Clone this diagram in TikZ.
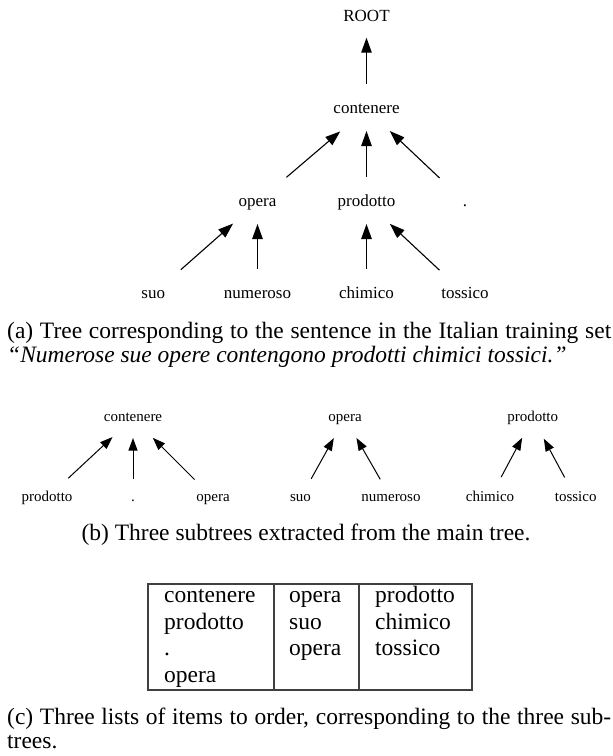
\documentclass[tikz,border=0pt]{standalone}
\usepackage{fontspec}
\setmainfont{Liberation Serif}
\usetikzlibrary{arrows.meta}
\begin{document}
\begin{tikzpicture}[x=1pt,y=-1pt,
  mt/.style={font=\fontsize{17}{20}\selectfont, inner sep=0pt, anchor=base, text height=12pt, text depth=4pt},
  st/.style={font=\fontsize{15}{18}\selectfont, inner sep=0pt, anchor=base, text height=10.5pt, text depth=3.5pt},
  txt/.style={font=\fontsize{23.5}{26}\selectfont, inner sep=0pt, anchor=base west},
  arrm/.style={-{Triangle[length=15pt,width=10.5pt]}, line width=1.1pt},
  arrs/.style={-{Triangle[length=12.5pt,width=9pt]}, line width=1pt},
  rule/.style={line width=1.2pt, draw=black!75}
]
\useasboundingbox (0,0) rectangle (613,756);
% main tree
\node[mt] (root) at (366.5,21) {ROOT};
\node[mt] (cont) at (366.5,113) {contenere};
\node[mt] (opera) at (257.5,206) {opera};
\node[mt] (prod) at (366.5,206) {prodotto};
\node[mt] (dot) at (465,206) {.};
\node[mt] (suo) at (153.3,298) {suo};
\node[mt] (num) at (257.5,298) {numeroso};
\node[mt] (chim) at (366.5,298) {chimico};
\node[mt] (toss) at (465,298) {tossico};
\draw[arrm, shorten <=25pt, shorten >=20.7pt] (cont.center) -- (root.center);
\draw[arrm, shorten <=38pt, shorten >=34.5pt] (opera.center) -- (cont.center);
\draw[arrm, shorten <=25pt, shorten >=22pt] (prod.center) -- (cont.center);
\draw[arrm, shorten <=35pt, shorten >=32pt] (dot.center) -- (cont.center);
\draw[arrm, shorten <=36.7pt, shorten >=32.6pt] (suo.center) -- (opera.center);
\draw[arrm, shorten <=25pt, shorten >=22pt] (num.center) -- (opera.center);
\draw[arrm, shorten <=25pt, shorten >=22pt] (chim.center) -- (prod.center);
\draw[arrm, shorten <=35pt, shorten >=32pt] (toss.center) -- (prod.center);
% caption a
\node[txt] (capa1) at (7,338) {\makebox[604pt][s]{(a) Tree corresponding to the sentence in the Italian training set}};
\node[txt] (capa2) at (7,362) {\textit{“Numerose sue opere contengono prodotti chimici tossici.”}};
% subtrees
\node[st] (c2) at (133,421.5) {contenere};
\node[st] (p2) at (47,501.5) {prodotto};
\node[st] (d2) at (133,501.5) {.};
\node[st] (o2) at (213,501.5) {opera};
\node[st] (o3) at (345,421.5) {opera};
\node[st] (s3) at (300.5,501.5) {suo};
\node[st] (n3) at (391,501.5) {numeroso};
\node[st] (p4) at (532.7,421.5) {prodotto};
\node[st] (ch4) at (490,501.5) {chimico};
\node[st] (t4) at (575.7,501.5) {tossico};
\draw[arrs, shorten <=29pt, shorten >=28pt] (p2.center) -- (c2.center);
\draw[arrs, shorten <=19pt, shorten >=20pt] (d2.center) -- (c2.center);
\draw[arrs, shorten <=26pt, shorten >=28pt] (o2.center) -- (c2.center);
\draw[arrs, shorten <=22pt, shorten >=23pt] (s3.center) -- (o3.center);
\draw[arrs, shorten <=21.5pt, shorten >=23pt] (n3.center) -- (o3.center);
\draw[arrs, shorten <=23.7pt, shorten >=22.4pt] (ch4.center) -- (p4.center);
\draw[arrs, shorten <=23.3pt, shorten >=23.5pt] (t4.center) -- (p4.center);
\node[txt, anchor=base] (capb) at (306,540) {(b) Three subtrees extracted from the main tree.};
% table
\draw[rule] (148,584) rectangle (472,690);
\draw[rule] (274,584) -- (274,690);
\draw[rule] (359,584) -- (359,690);
\node[txt] (t11) at (164,602.5) {contenere};
\node[txt] (t12) at (164,629) {prodotto};
\node[txt] (t13) at (164,655.5) {.};
\node[txt] (t14) at (164,682) {opera};
\node[txt] (t21) at (289,602.5) {opera};
\node[txt] (t22) at (289,629) {suo};
\node[txt] (t23) at (289,655.5) {opera};
\node[txt] (t31) at (375,602.5) {prodotto};
\node[txt] (t32) at (375,629) {chimico};
\node[txt] (t33) at (375,655.5) {tossico};
% caption c
\node[txt] (capc1) at (7,724) {\makebox[604pt][s]{(c) Three lists of items to order, corresponding to the three sub-}};
\node[txt] (capc2) at (7,748) {trees.};
\end{tikzpicture}
\end{document}
